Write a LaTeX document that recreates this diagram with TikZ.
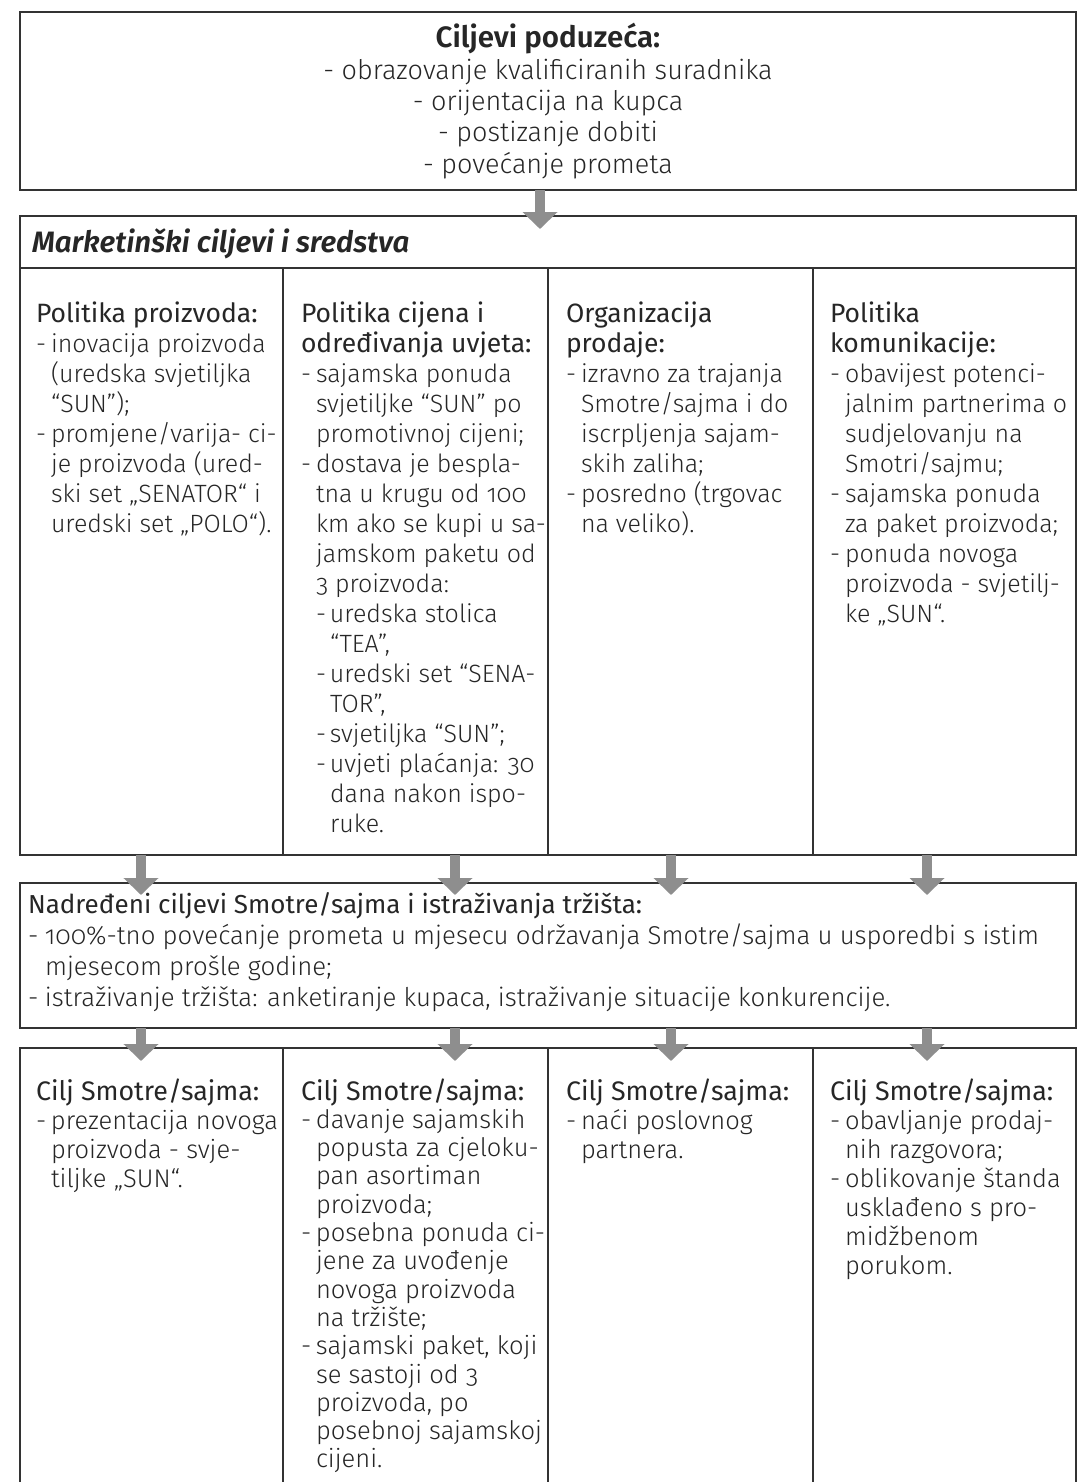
\documentclass[tikz,border=0pt]{standalone}
\usepackage{fontspec}
\setmainfont{Fira Sans}[UprightFont=* Light, BoldFont=* SemiBold, ItalicFont=* Light Italic, BoldItalicFont=* SemiBold Italic, Numbers=OldStyle]
\newfontfamily\headfont{Fira Sans}[Numbers=OldStyle]
\usetikzlibrary{arrows.meta}

\definecolor{ink}{HTML}{262626}
\definecolor{framec}{HTML}{333333}
\definecolor{flowc}{HTML}{8E8E8E}

% list entries: a dash followed by text, continuation lines hang under the text
\newlength\hang \setlength\hang{15pt}
\newcommand\itm{\par\hangindent=\hang\hangafter=1\noindent\makebox[\hang][l]{-}}
\newcommand\subitm{\par\hangindent=29pt\hangafter=1\noindent\hspace*{15pt}\makebox[14pt][l]{-}}
\newcommand\bodyfont{\fontsize{25}{30}\selectfont}
\newcommand\headline[1]{{\headfont\fontsize{26.5}{30}\selectfont #1\par}}
\newcommand\colbox[2][400pt]{\begin{minipage}[t]{#1}\setlength\parskip{0pt}\bodyfont #2\end{minipage}}

\begin{document}
\begin{tikzpicture}[x=1pt,y=-1pt,
  frame/.style={draw=framec, line width=1.4pt, inner sep=0pt, outer sep=0pt, anchor=north west},
  rule/.style={draw=framec, line width=1.4pt},
  flowarrow/.style={draw=flowc, line width=10pt, -{Triangle[width=34pt,length=17pt]}},
  txt/.style={inner sep=0pt, outer sep=0pt, anchor=base west, text=ink}]

\path[use as bounding box, fill=white] (0,0) rectangle (1078,1482);
\clip (0,0) rectangle (1078,1482);

% frames
\node[frame, minimum width=1056pt, minimum height=178pt] (goals) at (20,12) {};
\node[frame, minimum width=1056pt, minimum height=639pt] (mkt) at (20,216) {};
\node[frame, minimum width=1056pt, minimum height=145pt] (fair) at (20,883) {};
\draw[rule] (20,1500) -- (20,1048) -- (1076,1048) -- (1076,1500);

% table rules
\draw[rule] (20,268) -- (1076,268);
\foreach \x in {283,548,813} {
  \draw[rule] (\x,268) -- (\x,855);
  \draw[rule] (\x,1048) -- (\x,1500);
}

% company goals
\node[inner sep=0pt, anchor=base, text=ink] (goaltext) at (548,48) {\begin{minipage}[t]{900pt}\centering
  {\fontsize{29.5}{30}\selectfont\bfseries Ciljevi poduzeća:\par}
  \fontsize{27}{31.3}\selectfont
  - obrazovanje kvalificiranih suradnika\\
  - orijentacija na kupca\\
  - postizanje dobiti\\
  - povećanje prometa\par\end{minipage}};

% marketing goals and means
\node[txt] (mkttitle) at (32,252) {\fontsize{29.5}{30}\selectfont\bfseries\itshape Marketinški ciljevi i sredstva};

\node[txt] (p1) at (36,322) {\colbox{%
  \headline{Politika proizvoda:}
  \itm inovacija proizvoda\\ (uredska svjetiljka\\ “SUN”);
  \itm promjene/varija- ci-\\ je proizvoda (ured-\\ ski set „SENATOR“ i\\ uredski set „POLO“).\par}};

\node[txt] (p2) at (301,322) {\colbox{%
  \headline{Politika cijena i\\ određivanja uvjeta:}
  \itm sajamska ponuda\\ svjetiljke “SUN” po\\ promotivnoj cijeni;
  \itm dostava je bespla-\\ tna u krugu od 100\\ km ako se kupi u sa-\\ jamskom paketu od\\ 3 proizvoda:
  \subitm uredska stolica\\ “TEA”,
  \subitm uredski set “SENA-\\ TOR”,
  \subitm svjetiljka “SUN”;
  \subitm uvjeti plaćanja: 30\\ dana nakon ispo-\\ ruke.\par}};

\node[txt] (p3) at (566,322) {\colbox{%
  \headline{Organizacija\\ prodaje:}
  \itm izravno za trajanja\\ Smotre/sajma i do\\ iscrpljenja sajam-\\ skih zaliha;
  \itm posredno (trgovac\\ na veliko).\par}};

\node[txt] (p4) at (830,322) {\colbox{%
  \headline{Politika\\ komunikacije:}
  \itm obavijest potenci-\\ jalnim partnerima o\\ sudjelovanju na\\ Smotri/sajmu;
  \itm sajamska ponuda\\ za paket proizvoda;
  \itm ponuda novoga\\ proizvoda - svjetilj-\\ ke „SUN“.\par}};

% superior fair goals
\node[txt] (fairtext) at (28,913) {\colbox[1040pt]{%
  {\headfont\fontsize{26}{35}\selectfont Nadređeni ciljevi Smotre/sajma i istraživanja tržišta:\par}
  \setlength\hang{17pt}\fontsize{25.8}{31}\selectfont
  \itm 100\%-tno povećanje prometa u mjesecu održavanja Smotre/sajma u usporedbi s istim\\ mjesecom prošle godine;
  \itm istraživanje tržišta: anketiranje kupaca, istraživanje situacije konkurencije.\par}};

% individual fair goals
\node[txt] (g1) at (36,1100) {\colbox{\fontsize{25.5}{29}\selectfont
  {\headfont\fontsize{26.8}{29}\selectfont Cilj Smotre/sajma:\par}
  \itm prezentacija novoga\\ proizvoda - svje-\\ tiljke „SUN“.\par}};

\node[txt] (g2) at (301,1100) {\colbox{\fontsize{25.5}{28.3}\selectfont
  {\headfont\fontsize{26.8}{28.3}\selectfont Cilj Smotre/sajma:\par}
  \itm davanje sajamskih\\ popusta za cjeloku-\\ pan asortiman\\ proizvoda;
  \itm posebna ponuda ci-\\ jene za uvođenje\\ novoga proizvoda\\ na tržište;
  \itm sajamski paket, koji\\ se sastoji od 3\\ proizvoda, po\\ posebnoj sajamskoj\\ cijeni.\par}};

\node[txt] (g3) at (566,1100) {\colbox{\fontsize{25.5}{29}\selectfont
  {\headfont\fontsize{26.8}{29}\selectfont Cilj Smotre/sajma:\par}
  \itm naći poslovnog\\ partnera.\par}};

\node[txt] (g4) at (830,1100) {\colbox{\fontsize{25.5}{29}\selectfont
  {\headfont\fontsize{26.8}{29}\selectfont Cilj Smotre/sajma:\par}
  \itm obavljanje prodaj-\\ nih razgovora;
  \itm oblikovanje štanda\\ usklađeno s pro-\\ midžbenom\\ porukom.\par}};

% flow arrows
\coordinate (m0) at (540,229);
\draw[flowarrow] (goals.south -| m0) -- (m0);
\foreach \x [count=\i] in {141,455,671,927} {
  \coordinate (t\i) at (\x,895);
  \coordinate (b\i) at (\x,1061);
  \draw[flowarrow] (mkt.south -| t\i) -- (t\i);
  \draw[flowarrow] (fair.south -| b\i) -- (b\i);
}
\end{tikzpicture}
\end{document}
